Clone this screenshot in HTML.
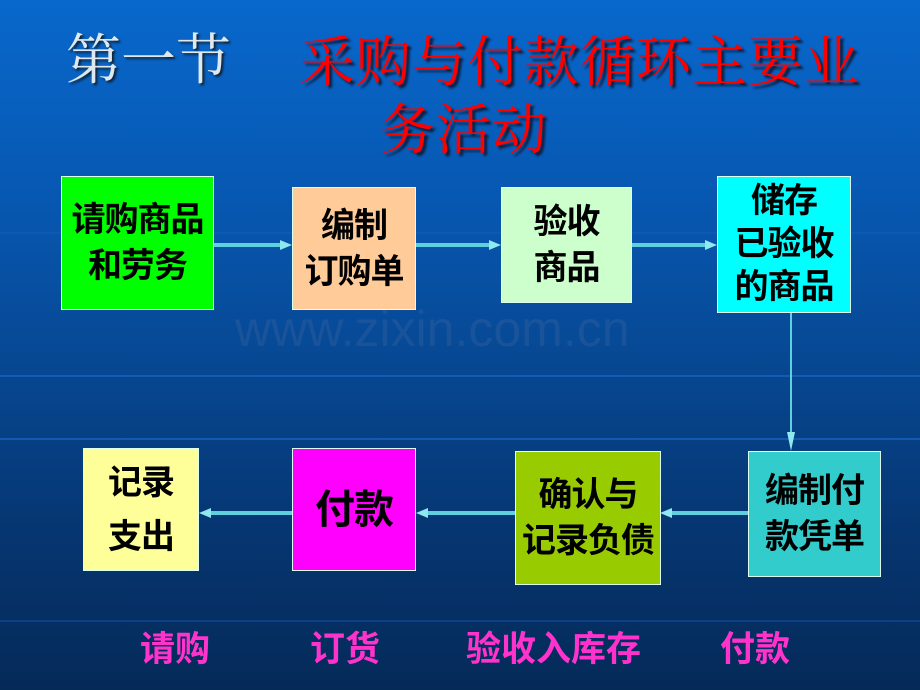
<!DOCTYPE html>
<html><head><meta charset="utf-8"><style>
body{margin:0}
#s{position:relative;width:920px;height:690px;overflow:hidden;background:linear-gradient(180deg,#0868cc 0%,#0757b0 30%,#07468f 55%,#063570 78%,#052a58 100%);font-family:"Liberation Sans","Noto Sans CJK SC",sans-serif}
.b{position:absolute;box-sizing:border-box;border:1px solid #dfe;display:flex;align-items:center;justify-content:center;text-align:center;font-size:34px;line-height:46px;color:#000;font-weight:bold;letter-spacing:-1px}
.t{position:absolute;font-size:55px;white-space:nowrap;line-height:1;font-family:"Noto Serif CJK SC",serif}
.l{position:absolute;font-size:35px;color:#ff33cc;font-weight:bold;line-height:1;white-space:nowrap}
.h{position:absolute;left:0;width:920px;height:2px;background:#1a6bd0;opacity:.6}
</style></head><body><div id="s">
<div class="h" style="top:375px"></div>
<div class="h" style="top:438px"></div>
<div class="h" style="top:232px;opacity:.3"></div>
<div class="h" style="top:620px;opacity:.3"></div>
<div style="position:absolute;left:235px;top:300px;font-size:50px;color:rgba(60,100,160,.35);">www.zixin.com.cn</div>
<div class="t" style="left:66px;top:28px;color:#dde8f0;text-shadow:2px 2px 2px #123">第一节</div>
<div class="t" style="left:300px;top:30px;color:#ff0000;text-shadow:3px 3px 2px #102040;letter-spacing:1px">采购与付款循环主要业</div>
<div class="t" style="left:380px;top:98px;color:#ff0000;text-shadow:3px 3px 2px #102040;letter-spacing:1px">务活动</div>
<svg style="position:absolute;left:0;top:0" width="920" height="690">
<g stroke="#5fd0e0" stroke-width="4" fill="#5fd0e0">
<line x1="214" y1="245" x2="282" y2="245"/><line x1="416" y1="245" x2="491" y2="245"/><line x1="632" y1="245" x2="707" y2="245"/>
<line x1="748" y1="513" x2="670" y2="513"/><line x1="515" y1="513" x2="428" y2="513"/><line x1="292" y1="513" x2="210" y2="513"/>
<line x1="791" y1="313" x2="791" y2="440" stroke-width="2"/>
</g>
<g fill="#8fe8f0">
<polygon points="292,245 280,240 280,250"/><polygon points="501,245 489,240 489,250"/><polygon points="717,245 705,240 705,250"/>
<polygon points="660,513 672,508 672,518"/><polygon points="416,513 428,508 428,518"/><polygon points="199,513 211,508 211,518"/>
<polygon points="791,451 787,432 795,432"/>
</g></svg>
<div class="b" style="left:61px;top:176px;width:153px;height:134px;background:#00ff00">请购商品<br>和劳务</div>
<div class="b" style="left:292px;top:187px;width:124px;height:123px;background:#ffcc99">编制<br>订购单</div>
<div class="b" style="left:501px;top:187px;width:131px;height:116px;background:#ccffcc">验收<br>商品</div>
<div class="b" style="left:717px;top:176px;width:134px;height:137px;background:#00ffff;line-height:43px">储存<br>已验收<br>的商品</div>
<div class="b" style="left:748px;top:451px;width:133px;height:126px;background:#33cccc">编制付<br>款凭单</div>
<div class="b" style="left:515px;top:451px;width:146px;height:134px;background:#99cc00">确认与<br>记录负债</div>
<div class="b" style="left:292px;top:448px;width:124px;height:123px;background:#ff00ff;font-size:40px">付款</div>
<div class="b" style="left:83px;top:448px;width:116px;height:123px;background:#ffff99;line-height:54px">记录<br>支出</div>
<div class="l" style="left:140px;top:632px">请购</div>
<div class="l" style="left:310px;top:632px">订货</div>
<div class="l" style="left:466px;top:632px">验收入库存</div>
<div class="l" style="left:720px;top:632px">付款</div>
</div></body></html>
